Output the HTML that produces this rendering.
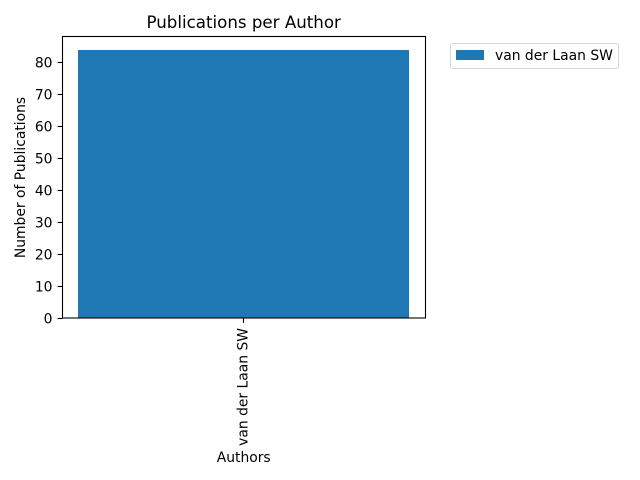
<!DOCTYPE html>
<html>
<head>
<meta charset="utf-8">
<style>
html,body{margin:0;padding:0;background:#fff;width:640px;height:480px;overflow:hidden}
svg{display:block}
text{font-family:"DejaVu Sans",sans-serif;fill:#000}
</style>
</head>
<body>
<svg id="chart" xmlns="http://www.w3.org/2000/svg" width="640" height="480" viewBox="0 0 640 480">
<rect x="0" y="0" width="640" height="480" fill="#fff"/>
<g id="marks"></g>
<g id="axes"></g>
<text x="243.7" y="28" font-size="16.67" text-anchor="middle">Publications per Author</text>
<text x="243.7" y="462" font-size="13.89" text-anchor="middle">Authors</text>
<text x="0" y="0" font-size="13.89" text-anchor="middle" transform="translate(25 177.5) rotate(-90)">Number of Publications</text>
<g id="legend">
<rect x="450.5" y="43.5" width="168" height="25" rx="2.5" fill="#fff" stroke="#d6d6d6" stroke-width="1"/>
<rect id="legend-swatch" x="456" y="50" width="28" height="10" fill="#1f77b4"/>
<text id="legend-label" x="495" y="60" font-size="13.89"></text>
</g>
</svg>
<script>
const categories = ["van der Laan SW"];
const seriesValues = [84];
const yTickLabels = [0, 10, 20, 30, 40, 50, 60, 70, 80];

const NS = "http://www.w3.org/2000/svg";
const plot = { left: 62.5, right: 425.5, top: 36.5, bottom: 318 };
const xRange = { left: 61.5, right: 425.5 };
const barWidth = 0.8;
const xMin = -0.5 + (1 - barWidth) / 2 - 0.04;
const xMax = categories.length - 1 + barWidth / 2 + 0.04;
const yMax = Math.max.apply(null, seriesValues) * 1.05;

function xScale(v) {
  return xRange.left + (v - xMin) / (xMax - xMin) * (xRange.right - xRange.left);
}
function yScale(v) {
  return plot.bottom - v / yMax * (plot.bottom - plot.top);
}
function make(tag, attrs, parent) {
  const el = document.createElementNS(NS, tag);
  Object.keys(attrs).forEach(function (k) { el.setAttribute(k, attrs[k]); });
  parent.appendChild(el);
  return el;
}

const marks = document.getElementById("marks");
const axes = document.getElementById("axes");

categories.forEach(function (name, i) {
  const x0 = Math.round(xScale(i - barWidth / 2));
  const x1 = Math.round(xScale(i + barWidth / 2));
  const yTop = Math.round(yScale(seriesValues[i]));
  const bar = make("rect", { x: x0, y: yTop, width: x1 - x0, height: plot.bottom - yTop, fill: "#1f77b4" }, marks);
  
  

  const cx = Math.floor(xScale(i)) + 0.5;
  const tick = make("line", { x1: cx, x2: cx, y1: plot.bottom, y2: plot.bottom + 4.9, stroke: "#000", "stroke-width": 1.1 }, axes);
  
  

  const label = make("text", { "font-size": 13.89, "text-anchor": "end", transform: "translate(" + (cx + 4) + " " + (plot.bottom + 10) + ") rotate(-90)" }, axes);
  
  
  label.textContent = name;
});

yTickLabels.forEach(function (v) {
  const y = Math.floor(yScale(v)) + 0.5;
  const tick = make("line", { x1: plot.left - 4.9, x2: plot.left, y1: y, y2: y, stroke: "#000", "stroke-width": 1.1 }, axes);
  
  

  const label = make("text", { x: plot.left - 10, y: y + 5.2, "font-size": 13.89, "text-anchor": "end" }, axes);
  
  
  label.textContent = v;
});

const frame = make("rect", { x: plot.left, y: plot.top, width: plot.right - plot.left, height: plot.bottom - plot.top, fill: "none", stroke: "#000", "stroke-width": 1.1 }, axes);



document.getElementById("legend-label").textContent = categories[0];
</script>
</body>
</html>
